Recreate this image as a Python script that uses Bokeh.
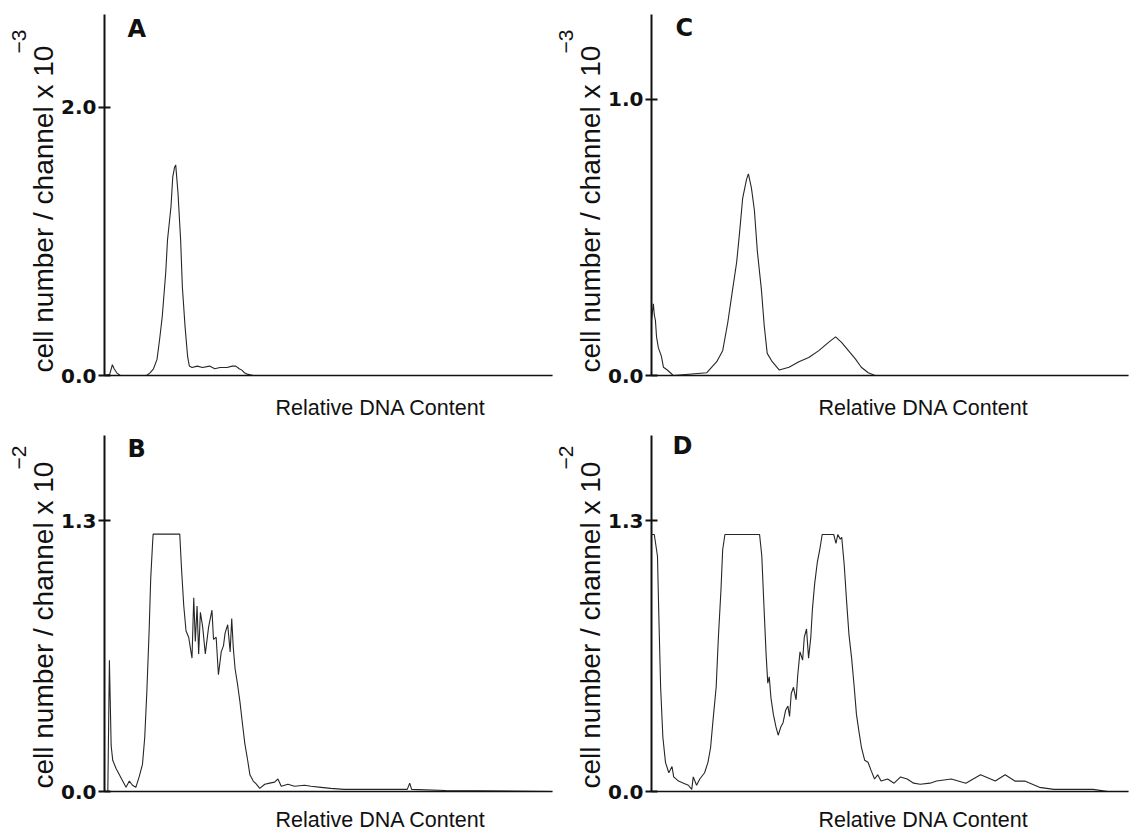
import math
from bokeh.plotting import figure
from bokeh.layouts import gridplot
from bokeh.models import Range1d, FixedTicker, PrintfTickFormatter, Label, Title
from bokeh.embed import file_html
from bokeh.resources import INLINE

# ---------------- data (channel, cell number per channel) ----------------
# Panel A  (x 10^-3)
a_ch = [0, 3, 4.5, 5.5, 7, 9, 24, 26, 28, 30, 31.5, 33, 35, 36, 38, 39,
        40, 40.7, 41, 42, 43.5, 44.5, 46, 47.5, 48.5, 50, 53, 56, 60, 63,
        66, 70, 73, 75, 77, 78.5, 80, 81.5, 85, 256]
a_val = [0, 0.01, 0.08, 0.05, 0.02, 0.0, 0.0, 0.02, 0.05, 0.12, 0.27, 0.44, 0.77, 1.01, 1.26, 1.48,
         1.55, 1.57, 1.52, 1.36, 1.01, 0.66, 0.37, 0.14, 0.07, 0.06, 0.07, 0.06, 0.07, 0.05,
         0.06, 0.06, 0.07, 0.07, 0.05, 0.04, 0.02, 0.01, 0.0, 0.0]

# Panel C  (x 10^-3)
c_ch = [0, 1, 1.5, 2.1, 2.7, 3.7, 5.3, 6.4, 8.5, 11.7, 29.7, 35, 38.2, 40.9, 43.5, 45.7,
        47.3, 48.9, 51, 52, 53.6, 55.2, 56.8, 59, 60.5, 62.1, 64.8, 68.5, 73.8, 79.1,
        84.4, 89.8, 95, 98.8, 102, 105.7, 109.4, 112.6, 116.3, 120, 256]
c_val = [0.20, 0.26, 0.22, 0.20, 0.14, 0.10, 0.07, 0.03, 0.02, 0.0, 0.01, 0.05, 0.09, 0.19, 0.31, 0.41,
         0.52, 0.64, 0.71, 0.73, 0.68, 0.60, 0.45, 0.31, 0.18, 0.08, 0.05, 0.02, 0.03, 0.05,
         0.065, 0.09, 0.12, 0.14, 0.12, 0.09, 0.06, 0.03, 0.01, 0.0, 0.0]

# Panel B  (x 10^-2)
b_ch = [0, 1.9, 2.8, 3.8, 4.7, 6.6, 8.5, 10.4, 12.3, 14.2, 16, 17.9, 19.8, 21.7, 23, 24.2,
        25.5, 26.4, 27.4, 27.8, 43, 44, 45.3, 46.6, 48.1, 50, 51, 51.9, 52.9, 53.8, 54.8,
        56.1, 57.6, 59.5, 61.4, 62.3, 63.8, 65.1, 66.7, 68, 68.9, 70.4, 71.8, 72.7, 73.6,
        74.6, 76.1, 77.4, 78.9, 80.2, 81.8, 83.1, 85, 86.8, 88.7, 91.6, 94.4, 97.2, 99.1,
        101, 104.8, 108.6, 114.3, 118, 123.7, 129.3, 136.9, 146.3, 155.8, 173, 174.4,
        175.5, 195, 256]
b_val = [0, 0, 0.63, 0.22, 0.15, 0.11, 0.08, 0.05, 0.02, 0.05, 0.03, 0.02, 0.07, 0.13, 0.26, 0.48,
         0.77, 1.02, 1.18, 1.235, 1.235, 1.07, 0.89, 0.77, 0.74, 0.64, 0.93, 0.72, 0.89, 0.66, 0.86,
         0.79, 0.66, 0.79, 0.87, 0.73, 0.74, 0.56, 0.67, 0.70, 0.76, 0.80, 0.67, 0.83, 0.69,
         0.59, 0.51, 0.43, 0.32, 0.23, 0.15, 0.08, 0.05, 0.035, 0.015, 0.035, 0.04, 0.045, 0.06,
         0.025, 0.035, 0.025, 0.03, 0.025, 0.02, 0.015, 0.01, 0.01, 0.01, 0.01, 0.04,
         0.01, 0.005, 0.0]

# Panel D  (x 10^-2)
d_ch = [0, 1.5, 3.2, 4.0, 4.9, 6.1, 7.5, 9.3, 11, 11.9, 14.5, 17.2, 19.8, 21.6, 22.4, 24.2,
        25.9, 28.5, 30.3, 31.7, 33, 34.7, 35.9, 37.3, 38.2, 39.4, 58, 59.2, 60.1, 61.5, 62.4,
        63.2, 64.1, 65.4, 66.8, 68, 69.4, 70.6, 72, 73.2, 74.1, 75, 76.2, 77.6, 78.5, 79.7,
        81.1, 82, 83.2, 84.3, 85.5, 86.4, 87.6, 89, 90.3, 91.6, 97.8, 99, 100, 101.3, 102.1,
        103.4, 104.8, 106, 107.4, 108.8, 110, 111.3, 112.7, 114.4, 116.2, 117.9, 119.7,
        121.4, 123.2, 126.7, 130.2, 133.7, 137.2, 140.7, 144.2, 149.5, 153, 160.9, 168.7,
        176.6, 184.5, 189.8, 195, 200.3, 208.2, 216, 237, 245, 256]
d_val = [1.233, 1.233, 1.13, 0.82, 0.50, 0.26, 0.14, 0.09, 0.12, 0.07, 0.05, 0.04, 0.03, 0.01, 0.07, 0.03,
         0.06, 0.09, 0.14, 0.21, 0.34, 0.50, 0.74, 0.97, 1.16, 1.233, 1.233, 1.13, 0.94, 0.66, 0.52,
         0.55, 0.45, 0.37, 0.31, 0.27, 0.31, 0.33, 0.39, 0.41, 0.36, 0.47, 0.50, 0.44, 0.56, 0.67,
         0.63, 0.74, 0.78, 0.64, 0.74, 0.88, 1.0, 1.10, 1.16, 1.233, 1.233, 1.19, 1.233, 1.21, 1.22,
         1.09, 0.90, 0.75, 0.64, 0.50, 0.37, 0.29, 0.21, 0.15, 0.14, 0.10, 0.06,
         0.08, 0.05, 0.06, 0.04, 0.07, 0.06, 0.04, 0.035, 0.04, 0.05, 0.06, 0.04,
         0.08, 0.05, 0.08, 0.05, 0.05, 0.02, 0.01, 0.01, 0.0, 0.0]

panel_letters = ["A", "C", "B", "D"]
y_ticks = [2.0, 1.0, 1.3, 1.3]
y_tops = [2.691, 1.307, 1.708, 1.708]
exponents = ["\u22123", "\u22123", "\u22122", "\u22122"]
x_label = "Relative DNA Content"
y_label = "cell number / channel x 10"

LABEL_FONT = "Liberation Sans"
INK = "#111111"


def make_panel(ch, val, letter, ytick, ytop, expo, col, row):
    if col == 0:
        width, bl, br = 553, 104, 1
    else:
        width, bl, br = 580, 98, 5
    if row == 0:
        height, bt, bb, gap = 419, 14, 43, 18
    else:
        height, bt, bb, gap = 412, 16, 38, 14

    p = figure(width=width, height=height, output_backend="svg", toolbar_location=None,
               x_range=Range1d(0, 256), y_range=Range1d(0, ytop),
               min_border_left=bl, min_border_right=br, min_border_top=bt,
               min_border_bottom=bb)
    p.outline_line_color = None
    p.background_fill_color = "white"
    p.border_fill_color = "white"
    p.xgrid.visible = False
    p.ygrid.visible = False

    p.line(ch, val, line_color="#262626", line_width=1.1)

    xa = p.xaxis[0]
    # one invisible tick: its length only spaces the axis title below the axis
    xa.ticker = FixedTicker(ticks=[0])
    xa.axis_line_color = INK
    xa.axis_line_width = 1.5
    xa.major_tick_line_color = None
    xa.minor_tick_line_color = None
    xa.major_tick_in = 0
    xa.major_tick_out = gap
    xa.minor_tick_out = 0
    xa.major_label_overrides = {0: ""}
    xa.major_label_text_font_size = "0px"
    xa.major_label_standoff = 0
    xa.axis_label_standoff = 0

    ya = p.yaxis[0]
    ya.ticker = FixedTicker(ticks=[0, ytick])
    ya.formatter = PrintfTickFormatter(format="%.1f")
    ya.axis_line_color = INK
    ya.axis_line_width = 2
    ya.major_tick_line_color = INK
    ya.major_tick_line_width = 2
    ya.major_tick_in = 6
    ya.major_tick_out = 6
    ya.minor_tick_line_color = None
    ya.minor_tick_out = 0
    ya.major_label_standoff = 2
    ya.axis_label_standoff = 0
    ya.major_label_text_font = "DejaVu Sans"
    ya.major_label_text_font_style = "bold"
    ya.major_label_text_font_size = "20px"
    ya.major_label_text_color = INK

    # y-axis title: main text next to the axis, exponent further out (raised)
    p.add_layout(Title(text=y_label, align="left", offset=3, standoff=0,
                       text_font=LABEL_FONT, text_font_size="28px",
                       text_font_style="normal", text_color=INK), "left")
    p.add_layout(Title(text=expo, align="left", offset=322, standoff=0,
                       text_font=LABEL_FONT, text_font_size="21px",
                       text_font_style="normal", text_color=INK), "left")

    # x-axis title
    xl_off = 171 if col == 0 else 167
    p.add_layout(Title(text=x_label, align="left", offset=xl_off, standoff=0,
                       text_font=LABEL_FONT, text_font_size="21.5px",
                       text_font_style="normal", text_color=INK), "below")

    let_pos = {"A": (23, 347), "C": (24, 348), "B": (23, 343), "D": (21, 346)}
    lx, ly = let_pos[letter]
    p.add_layout(Label(x=lx, y=ly, x_units="screen", y_units="screen",
                       text=letter, text_align="left", text_baseline="alphabetic",
                       text_font="DejaVu Sans", text_font_style="bold",
                       text_font_size="24px", text_color=INK))
    return p


pA = make_panel(a_ch, a_val, panel_letters[0], y_ticks[0], y_tops[0], exponents[0], 0, 0)
pC = make_panel(c_ch, c_val, panel_letters[1], y_ticks[1], y_tops[1], exponents[1], 1, 0)
pB = make_panel(b_ch, b_val, panel_letters[2], y_ticks[2], y_tops[2], exponents[2], 0, 1)
pD = make_panel(d_ch, d_val, panel_letters[3], y_ticks[3], y_tops[3], exponents[3], 1, 1)

grid = gridplot([[pA, pC], [pB, pD]], toolbar_location=None)

open("out.html", "w").write(file_html(grid, INLINE))
